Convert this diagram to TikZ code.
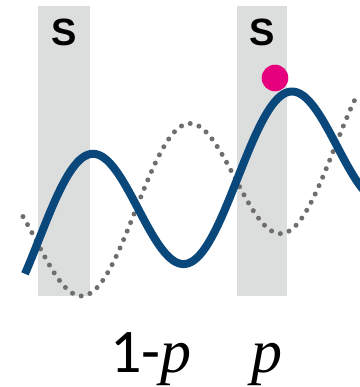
\documentclass[tikz,border=0pt]{standalone}
\usepackage{fontspec}
\setmainfont{Carlito}
\newfontfamily\tagfont{Liberation Sans}
\newfontfamily\varfont{Liberation Serif}
\usetikzlibrary{positioning}
\definecolor{bandgrey}{RGB}{220,221,221}
\definecolor{waveblue}{RGB}{10,72,124}
\definecolor{dotgrey}{RGB}{110,110,110}
\definecolor{ballpink}{RGB}{230,0,126}
% rising sine, #1 = phase shift in px
\newcommand{\wavey}[1]{252.2-0.313*\x-70*sin(1.809*(\x-#1))}
\newcommand{\pvar}{{\varfont\itshape p}}
\tikzset{
  tag/.style={font=\tagfont\bfseries\fontsize{19}{19}\selectfont},
  prob/.style={anchor=base,font=\fontsize{31}{31}\selectfont},
}

\begin{document}
\begin{tikzpicture}[x=0.5pt,y=-0.5pt,every node/.style={inner sep=0pt}]
  \useasboundingbox (0,0) rectangle (360,387);
  \foreach \xl/\xr [count=\i] in {38/90,237/287} {
    \fill[bandgrey] (\xl,6) rectangle (\xr,296);
    \node[tag] (s\i) at ({(\xl+\xr)/2},32) {S};
  }
  \begin{scope}
    \clip (0,0) rectangle (360,387);
    \draw[dotgrey,line width=2.5pt,line cap=round,dash pattern=on 0pt off 4.6pt]
      plot[domain=23:358,samples=150] (\x,{\wavey{135.75}});
    \draw[waveblue,line width=4pt]
      plot[domain=25:364,samples=150] (\x,{\wavey{38.75}});
  \end{scope}
  \node[circle,fill=ballpink,minimum size=13.3pt] (ball) at (275,78) {};
  \node[prob] (onep) at (151,372) {1-\pvar};
  \node[prob] (p) at (267,372) {\pvar};
\end{tikzpicture}
\end{document}
